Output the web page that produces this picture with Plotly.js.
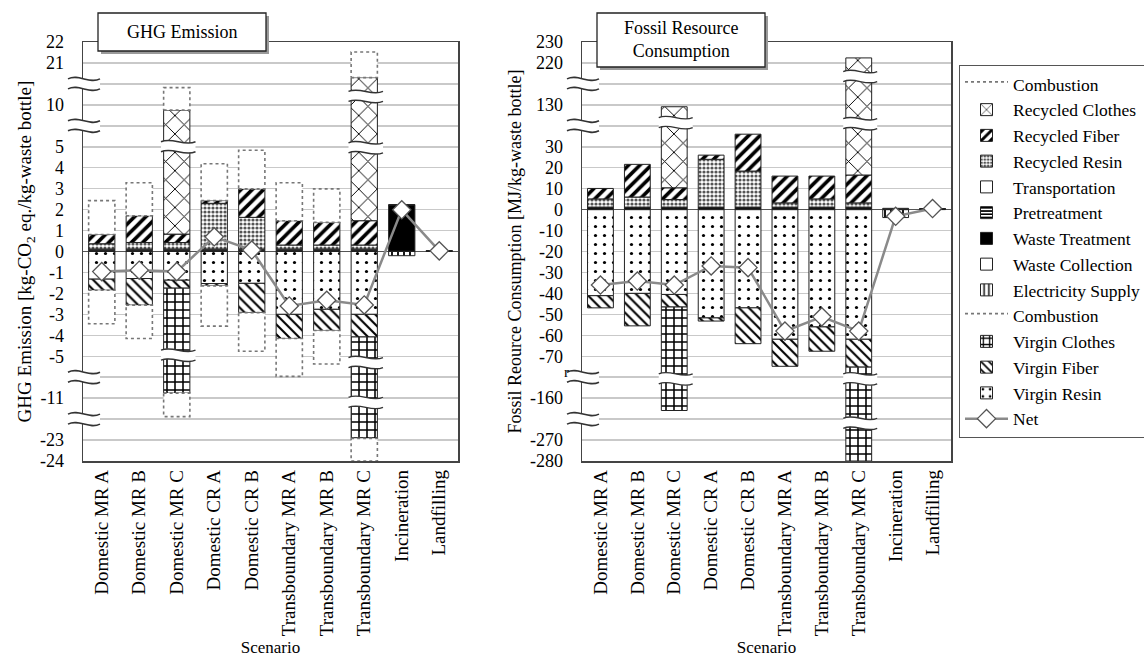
<!DOCTYPE html>
<html><head><meta charset="utf-8">
<script src="https://cdn.plot.ly/plotly-3.0.1.min.js"></script>
<style>html,body{margin:0;padding:0;background:#fff}#chart{width:1144px;height:657px}</style>
</head><body><div id="chart"></div>
<script>
const categories = ['Domestic MR A','Domestic MR B','Domestic MR C','Domestic CR A','Domestic CR B','Transboundary MR A','Transboundary MR B','Transboundary MR C','Incineration','Landfilling'];

// GHG emission [kg-CO2 eq./kg-waste bottle]
const ghgVirginResin      = [-1.32,-1.29,-1.37,-1.53,-1.52,-3.00,-2.76,-3.00, 0, 0];
const ghgVirginFiber      = [-0.53,-1.27,-0.38,-0.11,-1.40,-1.15,-1.01,-1.08, 0, 0];
const ghgVirginClothes    = [0, 0,-9.01, 0, 0, 0, 0,-18.84, 0, 0];
const ghgCombustionNeg    = [-1.60,-1.59,-1.12,-1.92,-1.84,-1.81,-1.60,-1.08, 0, 0];
const ghgElectricity      = [0.03,0.03,0.03,0.03,0.03,0.03,0.03,0.03,-0.20, 0];
const ghgWasteCollection  = [0.02,0.02,0.02,0.02,0.02,0.02,0.02,0.02,0.02,0.02];
const ghgWasteTreatment   = [0, 0, 0, 0, 0, 0, 0, 0, 2.20, 0.01];
const ghgPretreatment     = [0.03,0.03,0.03,0.03,0.03,0.03,0.03,0.03, 0, 0];
const ghgTransportation   = [0.04,0.04,0.04,0.04,0.04,0.04,0.04,0.04,0.02,0.01];
const ghgRecycledResin    = [0.25,0.31,0.31,2.18,1.51,0.19,0.19,0.19, 0, 0];
const ghgRecycledFiber    = [0.44,1.28,0.40,0.13,1.36,1.16,1.08,1.16, 0, 0];
const ghgRecycledClothes  = [0, 0, 8.92, 0, 0, 0, 0, 18.83, 0, 0];
const ghgCombustionPos    = [1.62,1.57,1.07,1.76,1.84,1.81,1.60,1.22, 0, 0];
const ghgNet              = [-0.96,-0.89,-0.96,0.70,0.07,-2.60,-2.33,-2.55,1.99,0.03];

// Fossil resource consumption [MJ/kg-waste bottle]
const fosVirginResin      = [-41.1,-40.0,-40.5,-51.7,-46.9,-61.9,-56.0,-61.9, 0, 0];
const fosVirginFiber      = [-5.8,-15.5,-6.0,-1.5,-17.1,-12.9,-11.6,-13.3, 0, 0];
const fosVirginClothes    = [0, 0,-119.4, 0, 0, 0, 0,-204.8, 0, 0];
const fosCombustionNeg    = [0,0,0,0,0,0,0,0,0,0];
const fosElectricity      = [0,0,0,0,0,0,0,0,-3.8,0];
const fosWasteCollection  = [0.3,0.3,0.3,0.3,0.3,0.3,0.3,0.3,0.3,0.2];
const fosWasteTreatment   = [0,0,0,0,0,0,0,0,0,0.2];
const fosPretreatment     = [0.7,0.7,0.7,0.7,0.7,0.7,0.7,0.7,0,0];
const fosTransportation   = [0.2,0.2,0.2,0.2,0.2,0.2,0.2,0.2,0.3,0.1];
const fosRecycledResin    = [3.9,4.8,3.6,22.8,17.2,2.0,3.9,2.0,0,0];
const fosRecycledFiber    = [5.0,15.6,5.6,2.0,17.6,12.8,10.9,13.3,0,0];
const fosRecycledClothes  = [0,0,118.7,0,0,0,0,205.9,0,0];
const fosCombustionPos    = [0,0,0,0,0,0,0,0,0,0];
const fosNet              = [-36.0,-34.1,-36.0,-26.9,-27.7,-58.0,-51.2,-58.0,-3.2,0.5];

// broken-axis tick labels (positions on the display scale)
const ghgTickVals  = [-10,-9,-7,-5,-4,-3,-2,-1,0,1,2,3,4,5,7,9,10];
const ghgTickText  = ['-24','-23','-11','-5','-4','-3','-2','-1','0','1','2','3','4','5','10','21','22'];
const fosTickVals  = [-12,-11,-9,-7,-6,-5,-4,-3,-2,-1,0,1,2,3,5,7,8];
const fosTickText  = ['-280','-270','-160','-70','-60','-50','-40','-30','-20','-10','0','10','20','30','130','220','230'];

// ---- broken axis scales: [v0, v1, d0, d1] segments ----
function makeScale(segs){
  return function(v){
    for (let i=0;i<segs.length;i++){
      const s=segs[i];
      if (v>=s[0] && v<=s[1]) return s[2]+(v-s[0])*(s[3]-s[2])/(s[1]-s[0]);
      if (i<segs.length-1 && v>s[1] && v<segs[i+1][0]) return s[3];
    }
    return v<segs[0][0] ? segs[0][2] : segs[segs.length-1][3];
  };
}
const ghgScale = makeScale([[-24,-22,-10,-8],[-12,-10,-8,-6],[-6,6,-6,6],[9,11,6,8],[20,22,8,10]]);
const fosScale = makeScale([[-280,-260,-12,-10],[-170,-150,-10,-8],[-80,40,-8,4],[120,140,4,6],[210,230,6,8]]);

const idx = categories.map((c,i)=>i);
const FONT = 'Liberation Serif, Times New Roman, serif';

const styles = {
  'Virgin Resin':      {color:'#fff', pattern:{shape:'.', fgcolor:'#000', bgcolor:'#fff', size:9, solidity:0.1}},
  'Virgin Fiber':      {color:'#fff', pattern:{shape:'\\', fgcolor:'#000', bgcolor:'#fff', size:7, solidity:0.3}},
  'Virgin Clothes':    {color:'#fff', pattern:{shape:'+', fgcolor:'#000', bgcolor:'#fff', size:8, solidity:0.35}},
  'Electricity Supply':{color:'#fff', pattern:{shape:'|', fgcolor:'#000', bgcolor:'#fff', size:6, solidity:0.3}},
  'Waste Collection':  {color:'#fff'},
  'Waste Treatment':   {color:'#000'},
  'Pretreatment':      {color:'#fff', pattern:{shape:'-', fgcolor:'#000', bgcolor:'#fff', size:4, solidity:0.5}},
  'Transportation':    {color:'#fff'},
  'Recycled Resin':    {color:'#fff', pattern:{shape:'.', fgcolor:'#555', bgcolor:'#fff', size:4, solidity:0.5}},
  'Recycled Fiber':    {color:'#fff', pattern:{shape:'/', fgcolor:'#000', bgcolor:'#fff', size:8, solidity:0.45}},
  'Recycled Clothes':  {color:'#fff', pattern:{shape:'x', fgcolor:'#000', bgcolor:'#fff', size:13, solidity:0.14}}
};

// stacking order (first series sits next to zero)
const stackOrder = [
  {name:'Virgin Resin', rank:13, ghg:ghgVirginResin, fos:fosVirginResin},
  {name:'Virgin Fiber', rank:12, ghg:ghgVirginFiber, fos:fosVirginFiber},
  {name:'Virgin Clothes', rank:11, ghg:ghgVirginClothes, fos:fosVirginClothes},
  {name:'Combustion', rank:10, ghg:ghgCombustionNeg, fos:fosCombustionNeg, dotted:true},
  {name:'Electricity Supply', rank:9, ghg:ghgElectricity, fos:fosElectricity},
  {name:'Waste Collection', rank:8, ghg:ghgWasteCollection, fos:fosWasteCollection},
  {name:'Waste Treatment', rank:7, ghg:ghgWasteTreatment, fos:fosWasteTreatment},
  {name:'Pretreatment', rank:6, ghg:ghgPretreatment, fos:fosPretreatment},
  {name:'Transportation', rank:5, ghg:ghgTransportation, fos:fosTransportation},
  {name:'Recycled Resin', rank:4, ghg:ghgRecycledResin, fos:fosRecycledResin},
  {name:'Recycled Fiber', rank:3, ghg:ghgRecycledFiber, fos:fosRecycledFiber},
  {name:'Recycled Clothes', rank:2, ghg:ghgRecycledClothes, fos:fosRecycledClothes},
  {name:'Combustion', rank:1, ghg:ghgCombustionPos, fos:fosCombustionPos, dotted:true}
];

const traces = [];
const dottedTraces = [];
[['ghg', ghgScale, 'x', 'y', true], ['fos', fosScale, 'x2', 'y2', false]].forEach(([key, scale, xa, ya, legend])=>{
  const pos = idx.map(()=>0), neg = idx.map(()=>0);
  stackOrder.forEach(s=>{
    const vals = s[key];
    const base = [], h = [];
    vals.forEach((v,i)=>{
      let b, t;
      if (v >= 0){ b = pos[i]; t = pos[i]+v; pos[i] = t; }
      else { b = neg[i]; t = neg[i]+v; neg[i] = t; }
      if (v === 0){ base.push(null); h.push(null); }
      else { base.push(scale(b)); h.push(scale(t)-scale(b)); }
    });
    if (s.dotted){
      const xs=[], ys=[];
      idx.forEach(i=>{
        if (h[i]===null) return;
        const b=base[i], t=base[i]+h[i];
        xs.push(i-0.35,i+0.35,i+0.35,i-0.35,i-0.35,null);
        ys.push(b,b,t,t,b,null);
      });
      dottedTraces.push({type:'scatter', mode:'lines', x:xs.length?xs:[null], y:ys.length?ys:[null],
        fill:'toself', fillcolor:'#fff', line:{color:'#777', width:1.6, dash:'dot'},
        name:s.name, legendrank:s.rank, showlegend:legend, xaxis:xa, yaxis:ya, hoverinfo:'skip'});
    } else {
      const st = styles[s.name];
      traces.push({type:'bar', x:idx, base:base, y:h, width:0.7, name:s.name, legendrank:s.rank,
        showlegend:legend, xaxis:xa, yaxis:ya,
        marker:{color:st.color, pattern:st.pattern, line:{color:'#222', width:1}}});
    }
  });
  const net = key==='ghg' ? ghgNet : fosNet;
  dottedTraces.push({type:'scatter', mode:'lines+markers', x:idx, y:net.map(scale), name:'Net', legendrank:14,
    showlegend:legend, xaxis:xa, yaxis:ya,
    line:{color:'#8a8a8a', width:2.5},
    marker:{symbol:'diamond', size:14, color:'#fff', line:{color:'#555', width:1.3}}});
});
const allTraces = traces.concat(dottedTraces.filter(t=>t.name!=='Net'), dottedTraces.filter(t=>t.name==='Net'));

// ---- geometry helpers (layout) ----
const ML=83, MR=193, MT=42, MB=196, W=1144, H=657;
const PW=W-ML-MR, PH=H-MT-MB;
const px2x = px => (px-ML)/PW;
const px2y = py => (H-MB-py)/PH;

function band(xref, yref, x0, x1, yc, g, a, lw){
  const L=x1-x0, c1=x0+L/3, c2=x0+2*L/3, up=yc+g, lo=yc-g;
  return [
    {type:'path', xref, yref, layer:'above', fillcolor:'#fff', line:{width:0},
     path:`M${x0},${up} C${c1},${up+a} ${c2},${up-a} ${x1},${up} L${x1},${lo} C${c2},${lo-a} ${c1},${lo+a} ${x0},${lo} Z`},
    {type:'path', xref, yref, layer:'above', line:{color:'#333', width:lw},
     path:`M${x0},${up} C${c1},${up+a} ${c2},${up-a} ${x1},${up}`},
    {type:'path', xref, yref, layer:'above', line:{color:'#333', width:lw},
     path:`M${x0},${lo} C${c1},${lo+a} ${c2},${lo-a} ${x1},${lo}`}
  ];
}
const shapes = [];
const gP = 5/PH, aP = 5.5/PH;
[6,8,-6,-8].forEach(d=>shapes.push(...band('paper','paper',px2x(68),px2x(100),(d+10)/20,gP,aP,1.6)));
[4,6,-8,-10].forEach(d=>shapes.push(...band('paper','paper',px2x(567),px2x(599),(d+12)/20,gP,aP,1.6)));
const dPerPx = 20/PH;
const ghgBarBreaks = [[2,5.0],[2,-4.95],[7,7.4],[7,4.95],[7,-5.3],[7,-7.2]];
const fosBarBreaks = [[2,4.15],[2,-8.08],[7,6.35],[7,4.1],[7,-8.08],[7,-10.2]];
ghgBarBreaks.forEach(([i,d])=>shapes.push(...band('x','y',i-0.42,i+0.5,d,5*dPerPx,5*dPerPx,1.4)));
fosBarBreaks.forEach(([i,d])=>shapes.push(...band('x2','y2',i-0.42,i+0.5,d,5*dPerPx,5*dPerPx,1.4)));
function titleBox(x0,y0,x1,y1){
  shapes.push({type:'rect', xref:'paper', yref:'paper', layer:'above', x0:px2x(x0+3), x1:px2x(x1+3), y0:px2y(y1+3), y1:px2y(y0+3), fillcolor:'#9a9a9a', line:{width:0}});
  shapes.push({type:'rect', xref:'paper', yref:'paper', layer:'above', x0:px2x(x0), x1:px2x(x1), y0:px2y(y1), y1:px2y(y0), fillcolor:'#fff', line:{color:'#222', width:1.3}});
}
titleBox(98,13,266,51);
titleBox(597,13,765,67);

const annotations = [
  {xref:'paper', yref:'paper', x:px2x(182), y:px2y(32), xanchor:'center', yanchor:'middle', text:'GHG Emission', showarrow:false, font:{family:FONT, size:18, color:'#000'}},
  {xref:'paper', yref:'paper', x:px2x(681), y:px2y(40), xanchor:'center', yanchor:'middle', text:'Fossil Resource<br>Consumption', showarrow:false, font:{family:FONT, size:18, color:'#000'}},
  {xref:'paper', yref:'paper', x:px2x(566), y:px2y(372), xanchor:'center', yanchor:'middle', text:'r', showarrow:false, font:{family:FONT, size:15, color:'#000'}}
];

const xCommon = {range:[-0.5,9.5], tickmode:'array', tickvals:idx, ticktext:categories, tickangle:-90,
  showgrid:false, zeroline:false, showline:true, mirror:true, linecolor:'#444', linewidth:1.5, ticks:'',
  ticklabelstandoff:0, tickfont:{family:FONT, size:19, color:'#000'},
  title:{text:'Scenario', font:{family:FONT, size:17, color:'#000'}, standoff:6}};
const yCommon = {tickmode:'array', showgrid:true, gridcolor:'#c9c9c9', gridwidth:1.5,
  minor:{tick0:0, dtick:1, showgrid:true, gridcolor:'#c9c9c9', gridwidth:1.5, ticks:''},
  zeroline:true, zerolinecolor:'#555', zerolinewidth:1.5, showline:true, mirror:true, linecolor:'#444', linewidth:1.5,
  ticks:'', ticklabelstandoff:14, tickfont:{family:FONT, size:18, color:'#000'}};

const layout = {
  width:W, height:H, margin:{l:ML, r:MR, t:MT, b:MB, autoexpand:false},
  paper_bgcolor:'#fff', plot_bgcolor:'#fff', barmode:'overlay',
  font:{family:FONT, color:'#000'},
  xaxis:Object.assign({}, xCommon, {domain:[0, px2x(458)], anchor:'y'}),
  xaxis2:Object.assign({}, xCommon, {domain:[px2x(582), 1], anchor:'y2'}),
  yaxis:Object.assign({}, yCommon, {range:[-10,10], tickvals:ghgTickVals, ticktext:ghgTickText, anchor:'x',
    title:{text:'GHG Emission [kg-CO<sub>2</sub> eq./kg-waste bottle]', font:{family:FONT, size:19, color:'#000'}, standoff:3}}),
  yaxis2:Object.assign({}, yCommon, {range:[-12,8], tickvals:fosTickVals, ticktext:fosTickText, anchor:'x2',
    title:{text:'Fossil Reource Consumption [MJ/kg-waste bottle]', font:{family:FONT, size:18, color:'#000'}, standoff:3}}),
  legend:{x:px2x(959), xanchor:'left', y:px2y(65), yanchor:'top', bgcolor:'#fff', bordercolor:'#555', borderwidth:1,
    font:{family:FONT, size:17.5, color:'#000'}, itemwidth:43, traceorder:'normal'},
  shapes:shapes, annotations:annotations, showlegend:true
};

Plotly.newPlot('chart', allTraces, layout, {staticPlot:true, displayModeBar:false});
</script></body></html>
